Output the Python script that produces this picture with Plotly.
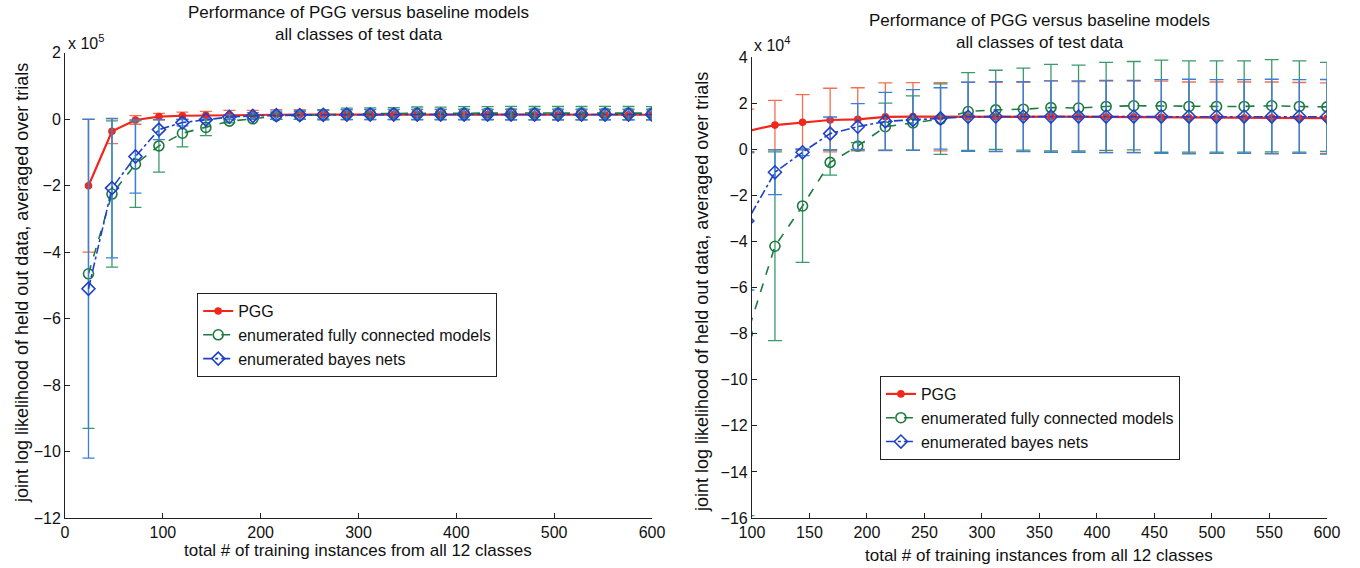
import plotly.graph_objects as go

# x: total # of training instances
x_vals = [24, 48, 72, 96, 120, 144, 168, 192, 216, 240, 264, 288, 312,
          336, 360, 384, 408, 432, 456, 480, 504, 528, 552, 576, 600]

# values in units of 1e4
pgg_mean = [-20.0, -3.6, -0.2, 0.8, 1.06, 1.18, 1.28, 1.31, 1.42, 1.43, 1.42, 1.42, 1.42,
            1.42, 1.43, 1.42, 1.42, 1.42, 1.40, 1.38, 1.38, 1.38, 1.38, 1.37, 1.36]
pgg_err = [20.0, 3.7, 1.3, 0.95, 1.07, 1.2, 1.38, 1.37, 1.47, 1.47, 1.48, 1.5, 1.5,
           1.5, 1.55, 1.53, 1.55, 1.55, 1.57, 1.55, 1.55, 1.55, 1.55, 1.54, 1.53]

fc_mean = [-46.5, -22.5, -13.5, -8.0, -4.2, -2.45, -0.56, 0.15, 0.99, 1.15, 1.32, 1.65, 1.72,
           1.75, 1.82, 1.8, 1.87, 1.9, 1.88, 1.87, 1.87, 1.87, 1.9, 1.87, 1.85]
fc_err = [46.5, 22.0, 13.0, 7.9, 4.1, 2.45, 0.55, 0.15, 1.02, 1.18, 1.53, 1.69, 1.72,
          1.78, 1.88, 1.86, 1.91, 1.92, 2.0, 1.98, 1.98, 1.98, 2.0, 1.98, 1.93]

bn_mean = [-51.0, -20.7, -11.2, -3.1, -0.99, -0.12, 0.69, 0.99, 1.22, 1.28, 1.35, 1.42, 1.43,
           1.43, 1.43, 1.43, 1.43, 1.43, 1.43, 1.43, 1.43, 1.43, 1.43, 1.43, 1.42]
bn_err = [51.0, 21.0, 11.0, 3.0, 0.97, 0.15, 0.72, 1.0, 1.26, 1.32, 1.33, 1.5, 1.52,
          1.52, 1.55, 1.55, 1.57, 1.57, 1.6, 1.62, 1.6, 1.6, 1.62, 1.6, 1.62]

series_names = ["PGG", "enumerated fully connected models", "enumerated bayes nets"]

left_yticks = [-12, -10, -8, -6, -4, -2, 0, 2]
left_xticks = [0, 100, 200, 300, 400, 500, 600]
right_yticks = [-16, -14, -12, -10, -8, -6, -4, -2, 0, 2, 4]
right_xticks = [100, 150, 200, 250, 300, 350, 400, 450, 500, 550, 600]

title_text = "Performance of PGG versus baseline models<br>all classes of test data"
xlabel = "total # of training instances from all 12 classes"
ylabel = "joint log likelihood of held out data, averaged over trials"

FONT = "Liberation Sans"
RED, RED_ERR = "#f0281c", "#f27050"
GREEN, GREEN_ERR = "#1e7a40", "#3a9a6a"
BLUE, BLUE_ERR = "#2040c8", "#3c7ee0"

fig = go.Figure()

def add_series(scale, xa, ya, legend, capw):
    specs = [
        (pgg_mean, pgg_err, RED, RED_ERR, "solid", "circle", 6, 2.2),
        (fc_mean, fc_err, GREEN, GREEN_ERR, "dash", "circle-open", 10, 1.6),
        (bn_mean, bn_err, BLUE, BLUE_ERR, "dashdot", "diamond-open", 10, 1.6),
    ]
    for name, (m, e, col, ecol, dash, sym, ms, lw) in zip(series_names, specs):
        fig.add_trace(go.Scatter(
            x=x_vals, y=[v / scale for v in m], name=name, mode="lines+markers",
            xaxis=xa, yaxis=ya, legend=legend,
            line=dict(color=col, width=lw, dash=dash),
            marker=dict(symbol=sym, size=ms, color=col, line=dict(color=col, width=1.6)),
            error_y=dict(type="data", array=[v / scale for v in e], visible=True,
                         color=ecol, thickness=1.3, width=capw),
        ))

add_series(10.0, "x", "y", "legend", 6)
add_series(1.0, "x2", "y2", "legend2", 7)

axis_common = dict(showline=True, linecolor="#222", linewidth=1, ticks="inside",
                   ticklen=5, tickcolor="#222", showgrid=False, zeroline=False,
                   automargin=False,
                   tickfont=dict(family=FONT, size=16, color="#111"), mirror=False)

leg_common = dict(xanchor="left", yanchor="top", bordercolor="#222", borderwidth=1,
                  bgcolor="white", font=dict(family=FONT, size=16, color="#111"),
                  tracegroupgap=0, itemwidth=30)

fig.update_layout(
    width=1360, height=568, margin=dict(l=0, r=0, t=0, b=0, autoexpand=False),
    paper_bgcolor="white", plot_bgcolor="white",
    font=dict(family=FONT, size=16, color="#111"),
    xaxis=dict(domain=[0.0478, 0.4794], range=[0, 600], tickvals=left_xticks,
               anchor="y", **axis_common),
    yaxis=dict(domain=[0.088, 0.907], range=[-12, 2], tickvals=left_yticks,
               anchor="x", **axis_common),
    xaxis2=dict(domain=[0.5529, 0.9757], range=[100, 600], tickvals=right_xticks,
                anchor="y2", **axis_common),
    yaxis2=dict(domain=[0.088, 0.899], range=[-16, 4], tickvals=right_yticks,
                anchor="x2", **axis_common),
    legend=dict(x=0.145, y=0.484, **leg_common),
    legend2=dict(x=0.647, y=0.338, **leg_common),
    showlegend=True,
)

ann = [
    dict(text=title_text, x=0.2636, y=1 - 1 / 568, xanchor="center", yanchor="top", size=17),
    dict(text=title_text, x=0.7643, y=1 - 9 / 568, xanchor="center", yanchor="top", size=17),
    dict(text=xlabel, x=0.2636, y=1 - 562 / 568, xanchor="center", yanchor="bottom", size=17),
    dict(text=xlabel, x=0.7643, y=1 - 567 / 568, xanchor="center", yanchor="bottom", size=17),
    dict(text=ylabel, x=22 / 1360, y=1 - 283 / 568, xanchor="center", yanchor="middle",
         textangle=-90, size=18),
    dict(text=ylabel, x=702 / 1360, y=1 - 292 / 568, xanchor="center", yanchor="middle",
         textangle=-90, size=18),
    dict(text="x 10<sup>5</sup>", x=66 / 1360, y=1 - 54 / 568, xanchor="left", yanchor="bottom",
         size=16),
    dict(text="x 10<sup>4</sup>", x=752 / 1360, y=1 - 56 / 568, xanchor="left", yanchor="bottom",
         size=16),
]
for a in ann:
    sz = a.pop("size")
    fig.add_annotation(xref="paper", yref="paper", showarrow=False,
                       font=dict(family=FONT, size=sz, color="#111"), **a)

fig.write_html("out.html")
